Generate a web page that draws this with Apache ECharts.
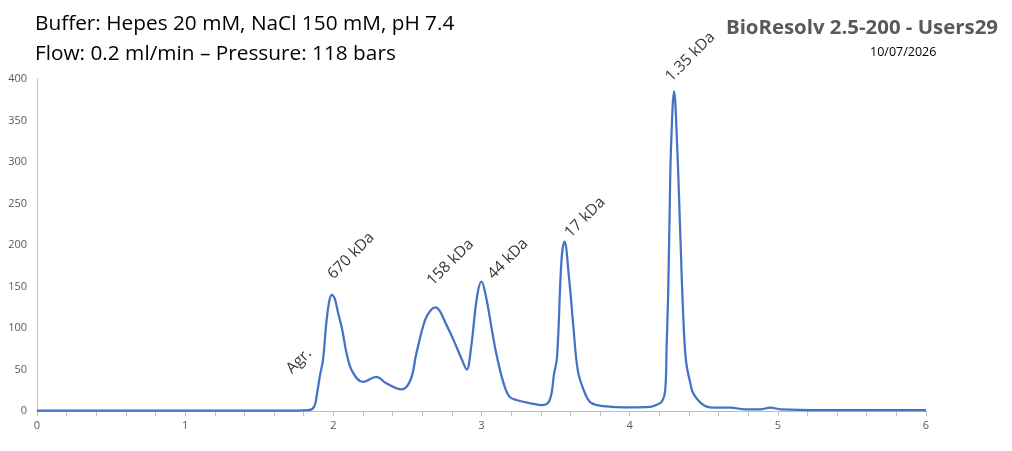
<!DOCTYPE html>
<html lang="en" style="height: 100%">
<head>
  <meta charset="utf-8">
</head>
<body style="height: 100%; margin: 0">
  <div id="container" style="width: 1012px; height: 451px"></div>
  <script type="text/javascript" src="https://cdn.jsdelivr.net/npm/echarts@6/dist/echarts.min.js"></script>
  <script type="text/javascript">
const elution = [0, 1.0, 1.75, 1.83, 1.87, 1.89, 1.91, 1.93, 1.95, 1.97, 1.99, 2.01, 2.03, 2.06, 2.09, 2.13, 2.20, 2.29, 2.36, 2.46, 2.52, 2.56, 2.62, 2.66, 2.69, 2.72, 2.76, 2.81, 2.87, 2.90, 2.93, 2.97, 3.00, 3.03, 3.07, 3.10, 3.15, 3.19, 3.24, 3.34, 3.41, 3.46, 3.49, 3.51, 3.54, 3.56, 3.59, 3.62, 3.65, 3.69, 3.73, 3.78, 3.88, 4.00, 4.14, 4.19, 4.22, 4.24, 4.25, 4.26, 4.27, 4.28, 4.30, 4.32, 4.34, 4.36, 4.38, 4.41, 4.43, 4.50, 4.58, 4.68, 4.78, 4.88, 4.95, 5.02, 5.30, 6.00];
const absorbance = [0.5, 0.5, 0.5, 1, 5, 21, 43, 61, 101, 130, 140, 135, 120, 98, 69, 47, 35, 41, 33, 26, 37, 69, 110, 122, 125, 120, 105, 86, 61, 50, 77, 138, 156, 138, 98, 69, 33, 17, 13, 9, 7, 13, 45, 65, 182, 204, 162, 102, 49, 25, 11, 7, 5, 4.5, 5, 8, 12, 25, 82, 142, 242, 322, 385, 322, 222, 122, 61, 33, 21, 7, 4, 4, 2, 2, 4, 2, 1, 1];

const peakNames = ['Agr.', '670 kDa', '158 kDa', '44 kDa', '17 kDa', '1.35 kDa'];
const peakLabelX = [1.70, 1.98, 2.65, 3.06, 3.58, 4.26];
const peakLabelY = [48, 162, 154, 162, 212, 400];

var dom = document.getElementById('container');
var myChart = echarts.init(dom, null, { renderer: 'canvas' });

var option = {
  animation: false,
  backgroundColor: '#ffffff',
  title: [
    {
      text: 'Buffer: Hepes 20 mM, NaCl 150 mM, pH 7.4\nFlow: 0.2 ml/min \u2013 Pressure: 118 bars',
      left: 30,
      top: 4,
      textStyle: {
        fontFamily: 'Open Sans',
        fontWeight: 'normal',
        fontSize: 20.8,
        lineHeight: 30,
        color: '#000000'
      }
    },
    {
      text: 'BioResolv 2.5-200 - Users29',
      right: 9,
      top: 13,
      textStyle: {
        fontFamily: 'Open Sans',
        fontWeight: 'bold',
        fontSize: 20.4,
        color: '#595959'
      }
    },
    {
      text: '10/07/2026',
      left: 865,
      top: 41,
      textStyle: {
        fontFamily: 'Open Sans',
        fontWeight: 'normal',
        fontSize: 12.5,
        color: '#000000'
      }
    }
  ],
  grid: {
    left: 37,
    right: 86,
    top: 79,
    bottom: 40,
    containLabel: false
  },
  xAxis: {
    type: 'value',
    min: 0,
    max: 6,
    interval: 1,
    axisLine: { show: true, lineStyle: { color: '#BFBFBF', width: 1 } },
    axisTick: { show: true, length: 5, lineStyle: { color: '#BFBFBF' } },
    minorTick: { show: true, splitNumber: 5, length: 5, lineStyle: { color: '#BFBFBF' } },
    splitLine: { show: false },
    axisLabel: { color: '#595959', fontSize: 11, fontFamily: 'Open Sans', margin: 9 }
  },
  yAxis: {
    type: 'value',
    min: 0,
    max: 400,
    interval: 50,
    axisLine: { show: true, lineStyle: { color: '#BFBFBF', width: 1 } },
    axisTick: { show: false },
    splitLine: { show: false },
    axisLabel: { color: '#595959', fontSize: 11, fontFamily: 'Open Sans', margin: 10 }
  },
  series: [
    {
      type: 'line',
      smooth: 0.4,
      showSymbol: false,
      lineStyle: { color: '#4472C4', width: 2.25 },
      data: elution.map(function (x, i) {
        return [x, absorbance[i]];
      })
    },
    {
      type: 'scatter',
      symbolSize: 0,
      silent: true,
      label: {
        show: true,
        position: [0, 0],
        align: 'left',
        verticalAlign: 'middle',
        rotate: 45,
        color: '#000000',
        fontSize: 15.5,
        fontFamily: 'Open Sans',
        formatter: function (p) {
          return p.name;
        }
      },
      data: peakNames.map(function (name, i) {
        return { name: name, value: [peakLabelX[i], peakLabelY[i]] };
      })
    }
  ]
};

myChart.setOption(option);
window.addEventListener('resize', myChart.resize);
  </script>
</body>
</html>
